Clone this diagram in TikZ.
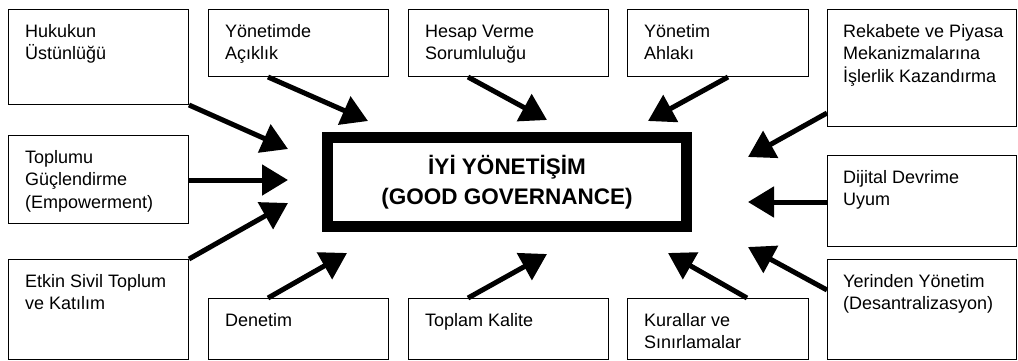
\documentclass[tikz,border=0pt]{standalone}
\usepackage{fontspec}
\setmainfont{Liberation Sans}
\usetikzlibrary{arrows.meta,calc}
\begin{document}
\begin{tikzpicture}[x=1pt,y=-1pt,
  box/.style={draw, line width=1pt, inner sep=0pt, anchor=north west},
  txt/.style={anchor=base west, inner sep=0pt, align=left, font=\fontsize{18}{22.5}\selectfont},
  arr/.style={line width=5pt, -{Triangle[length=26pt,width=30pt]}},
  core/.style={draw, line width=11pt, inner sep=0pt, align=center, font=\bfseries\fontsize{22.5}{30}\selectfont}
  ]
\useasboundingbox (0,0) rectangle (1018,360);
% boxes
\node[box, minimum width=180, minimum height=95] (huk) at (8,9) {};
\node[box, minimum width=180, minimum height=88] (tpl) at (8,135) {};
\node[box, minimum width=180, minimum height=100] (etk) at (8,259) {};
\node[box, minimum width=180, minimum height=67] (yon) at (208,9) {};
\node[box, minimum width=200, minimum height=67] (hes) at (408,9) {};
\node[box, minimum width=181, minimum height=67] (ahl) at (627,9) {};
\node[box, minimum width=189, minimum height=117] (rek) at (827,9) {};
\node[box, minimum width=189, minimum height=91] (dij) at (827,155) {};
\node[box, minimum width=189, minimum height=100] (yer) at (827,259) {};
\node[box, minimum width=180, minimum height=61] (den) at (208,298) {};
\node[box, minimum width=200, minimum height=61] (tkl) at (408,298) {};
\node[box, minimum width=181, minimum height=61] (kur) at (627,298) {};
% texts (anchor = baseline of last line)
\node[txt] (hukT) at ($(huk.north west)+(17,50.5)$) {Hukukun\\Üstünlüğü};
\node[txt] (tplT) at ($(tpl.north west)+(17,73)$) {Toplumu\\Güçlendirme\\(Empowerment)};
\node[txt] (etkT) at ($(etk.north west)+(17,50.5)$) {Etkin Sivil Toplum\\ve Katılım};
\node[txt] (yonT) at ($(yon.north west)+(17,50.5)$) {Yönetimde\\Açıklık};
\node[txt] (hesT) at ($(hes.north west)+(17,50.5)$) {Hesap Verme\\Sorumluluğu};
\node[txt] (ahlT) at ($(ahl.north west)+(17,50.5)$) {Yönetim\\Ahlakı};
\node[txt] (rekT) at ($(rek.north west)+(16,73)$) {Rekabete ve Piyasa\\Mekanizmalarına\\İşlerlik Kazandırma};
\node[txt] (dijT) at ($(dij.north west)+(16,50.5)$) {Dijital Devrime\\Uyum};
\node[txt] (yerT) at ($(yer.north west)+(16,50.5)$) {Yerinden Yönetim\\(Desantralizasyon)};
\node[txt] (denT) at ($(den.north west)+(17,28)$) {Denetim};
\node[txt] (tklT) at ($(tkl.north west)+(17,28)$) {Toplam Kalite};
\node[txt] (kurT) at ($(kur.north west)+(17,50.5)$) {Kurallar ve\\Sınırlamalar};
% central
\node[core, minimum width=359, minimum height=89] (c) at (507,182) {İYİ YÖNETİŞİM\\(GOOD GOVERNANCE)};
% arrow tips
\coordinate (tHuk) at (288,149);
\coordinate (tYon) at (368,121);
\coordinate (tHes) at (547,120);
\coordinate (tAhl) at (648,121);
\coordinate (tRek) at (748,157);
\coordinate (tDij) at (748,202);
\coordinate (tYer) at (748,247);
\coordinate (tKur) at (668,253);
\coordinate (tTkl) at (547,254);
\coordinate (tDen) at (347,253);
\coordinate (tEtk) at (288,203);
\coordinate (tTpl) at (288,180);
% arrows
\draw[arr] (huk.south east) -- (tHuk);
\draw[arr] ($(yon.south west)+(60,0)$) -- (tYon);
\draw[arr] ($(hes.south west)+(60,0)$) -- (tHes);
\draw[arr] ($(ahl.south east)+(-81,0)$) -- (tAhl);
\draw[arr] ($(rek.north west)+(0,104)$) -- (tRek);
\draw[arr] ($(dij.north west)+(0,47)$) -- (tDij);
\draw[arr] ($(yer.north west)+(0,31)$) -- (tYer);
\draw[arr] ($(kur.north west)+(120,0)$) -- (tKur);
\draw[arr] ($(tkl.north west)+(60,0)$) -- (tTkl);
\draw[arr] ($(den.north west)+(60,0)$) -- (tDen);
\draw[arr] (etk.north east) -- (tEtk);
\draw[arr] ($(tpl.north east)+(0,45)$) -- (tTpl);
\end{tikzpicture}
\end{document}
